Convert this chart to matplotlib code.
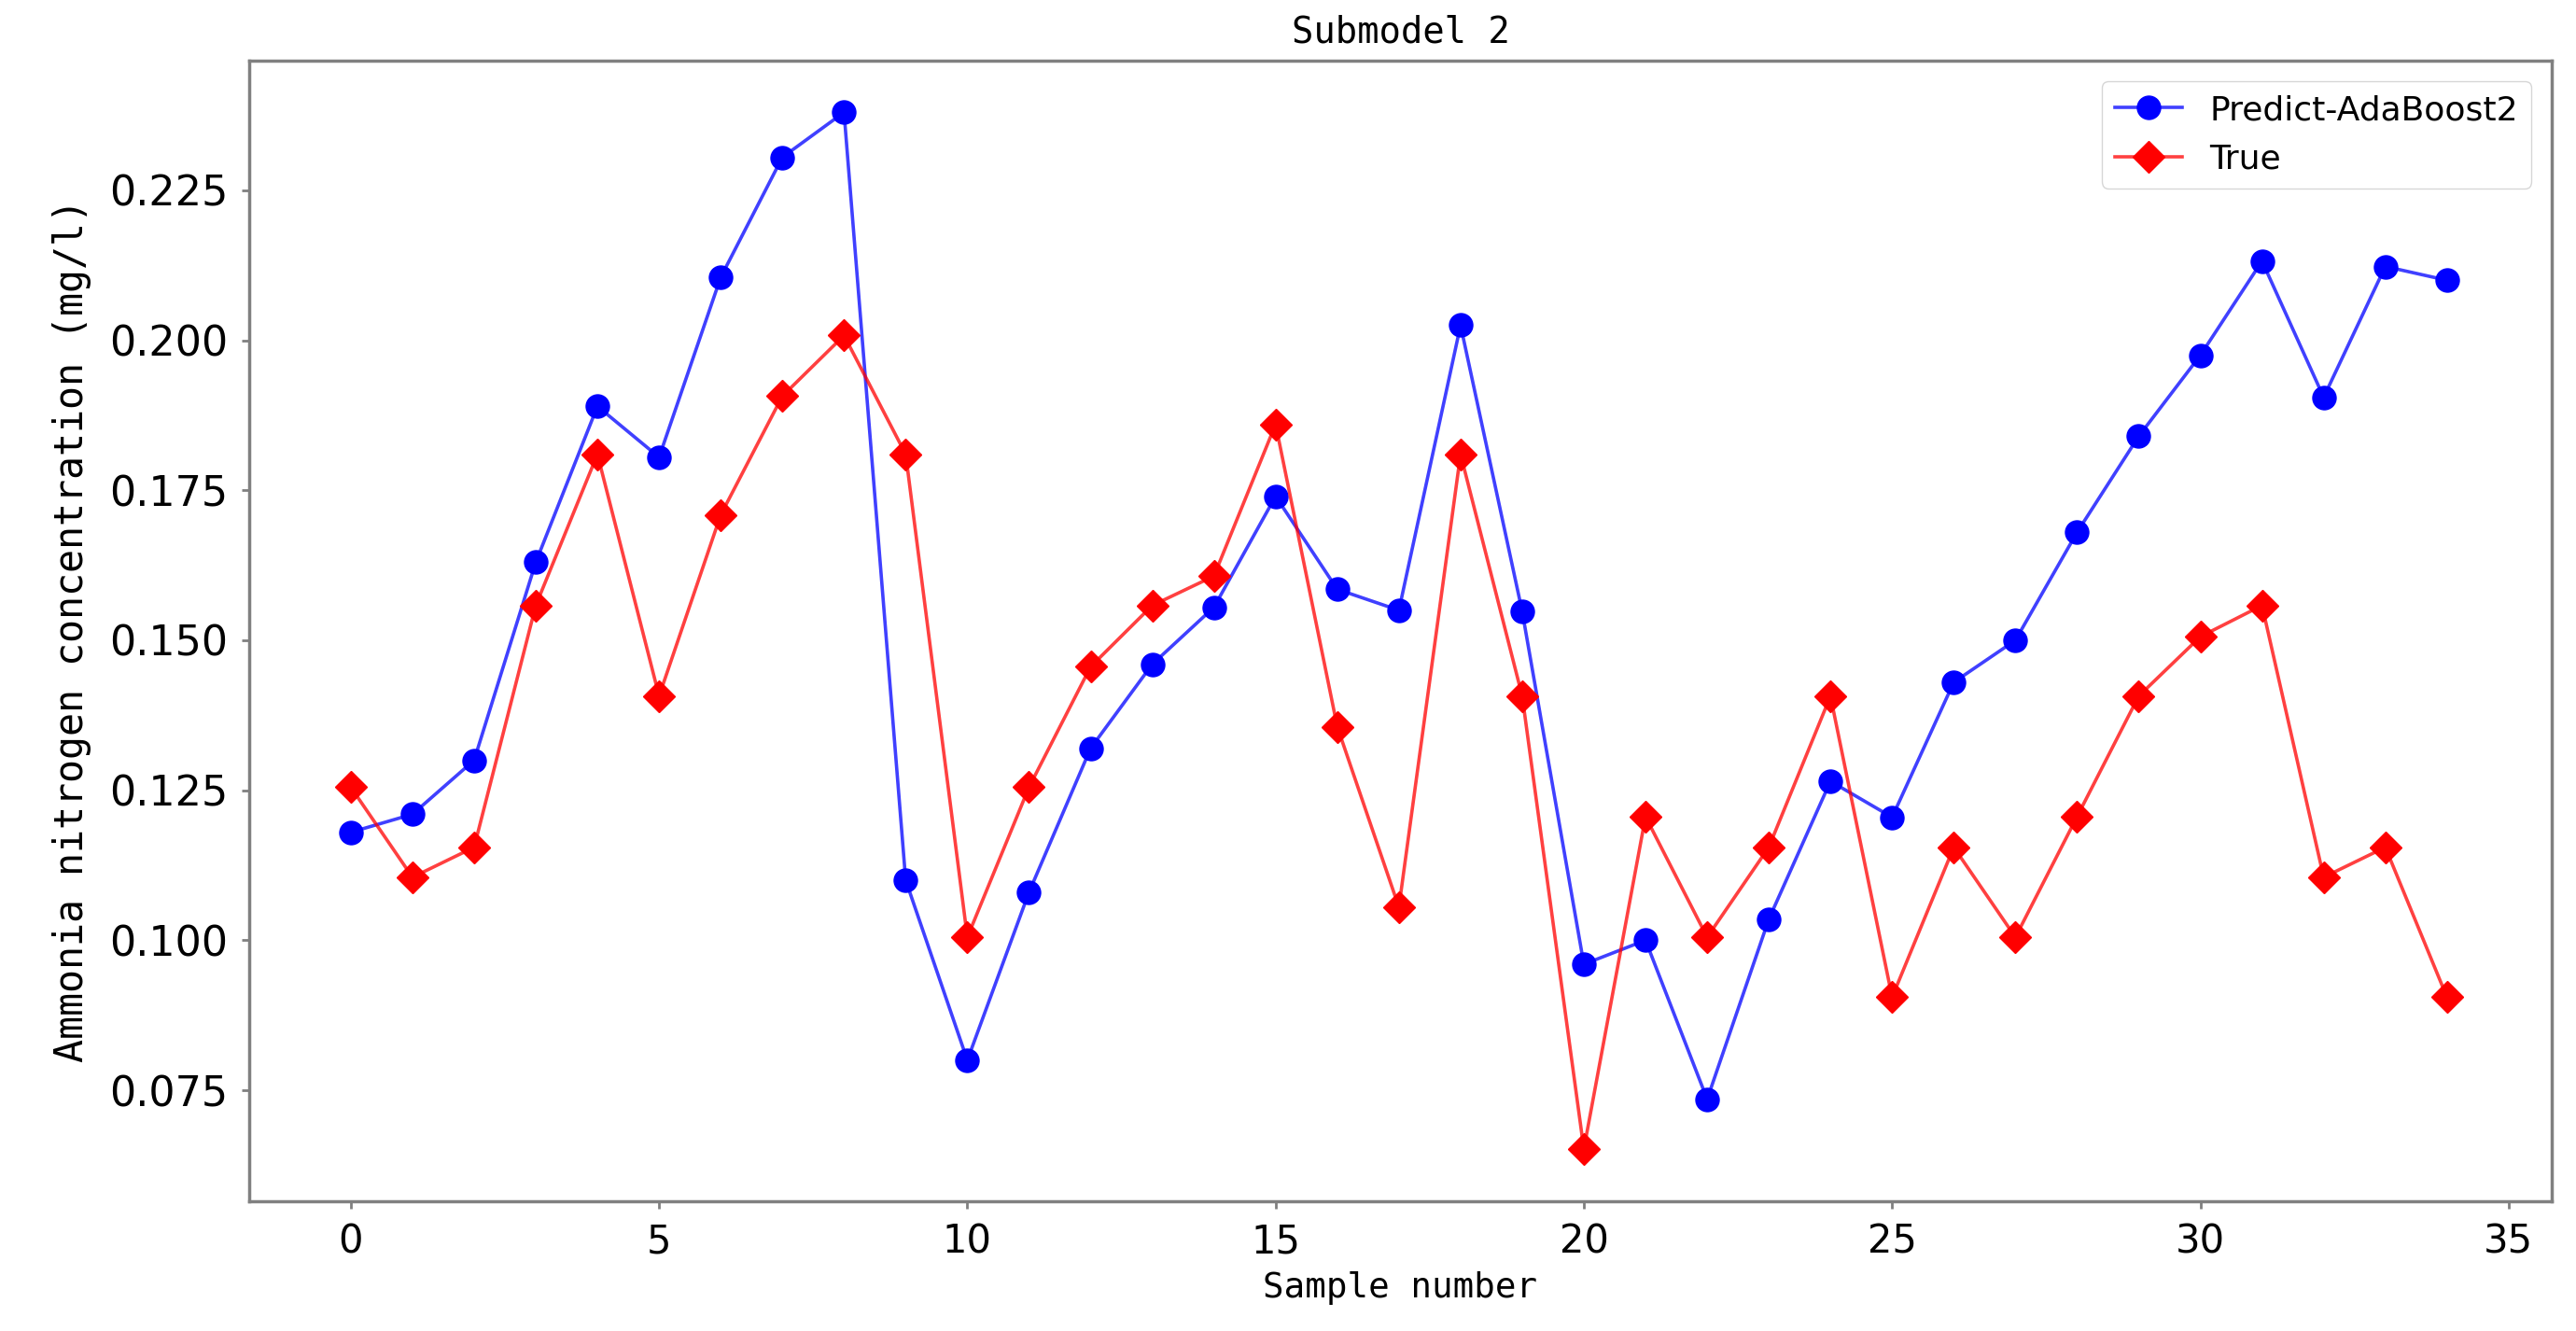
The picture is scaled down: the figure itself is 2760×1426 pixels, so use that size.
import matplotlib
matplotlib.use("Agg")
import matplotlib.pyplot as plt

# sample index 0..34
samples = list(range(35))

predict_ada = [0.118, 0.121, 0.130, 0.163, 0.189, 0.1805, 0.2105, 0.2305, 0.238, 0.110,
               0.080, 0.108, 0.132, 0.146, 0.1555, 0.174, 0.1585, 0.155, 0.2025, 0.1548,
               0.096, 0.100, 0.0735, 0.1035, 0.1265, 0.1205, 0.143, 0.150, 0.168, 0.184,
               0.1975, 0.2132, 0.1905, 0.2123, 0.210]

true_vals = [0.1255, 0.1105, 0.1155, 0.1558, 0.181, 0.1407, 0.1709, 0.1907, 0.2008, 0.181,
             0.1005, 0.1255, 0.1456, 0.1558, 0.1607, 0.186, 0.1356, 0.1055, 0.181, 0.1407,
             0.0652, 0.1206, 0.1005, 0.1155, 0.1407, 0.0905, 0.1155, 0.1005, 0.1206, 0.1407,
             0.1506, 0.1558, 0.1105, 0.1155, 0.0905]

xticks = [0, 5, 10, 15, 20, 25, 30, 35]
yticks = [0.075, 0.100, 0.125, 0.150, 0.175, 0.200, 0.225]

fig = plt.figure(figsize=(27.6, 14.26), dpi=100)
ax = fig.add_axes([0.0967, 0.0975, 0.8939, 0.8569])

# lines a bit see-through, markers solid
ax.plot(samples, predict_ada, color=(0, 0, 1, 0.75), marker="o", markersize=18,
        mfc="blue", mec="blue", linewidth=2.6, label="Predict-AdaBoost2")
ax.plot(samples, true_vals, color=(1, 0, 0, 0.75), marker="D", markersize=17,
        mfc="red", mec="red", linewidth=2.6, label="True")

ax.set_xlim(-1.65, 35.7)
ax.set_ylim(0.0565, 0.2466)
ax.set_xticks(xticks)
ax.set_yticks(yticks)
ax.set_yticklabels(["%.3f" % v for v in yticks], fontsize=32)
ax.set_xticklabels([str(v) for v in xticks], fontsize=30)

for s in ax.spines.values():
    s.set_color("gray")
    s.set_linewidth(2.5)
ax.tick_params(length=6, width=2, color="gray", pad=10)

ax.set_title("Submodel 2", fontsize=28, family="DejaVu Sans Mono", pad=14)
ax.set_xlabel("Sample number", fontsize=27, family="DejaVu Sans Mono", labelpad=8)
ax.set_ylabel("Ammonia nitrogen concentration (mg/l)", fontsize=30,
              family="DejaVu Sans Mono", labelpad=14)

ax.legend(loc="upper right", fontsize=26, borderaxespad=0.6)

plt.savefig("out.png", dpi=100)
